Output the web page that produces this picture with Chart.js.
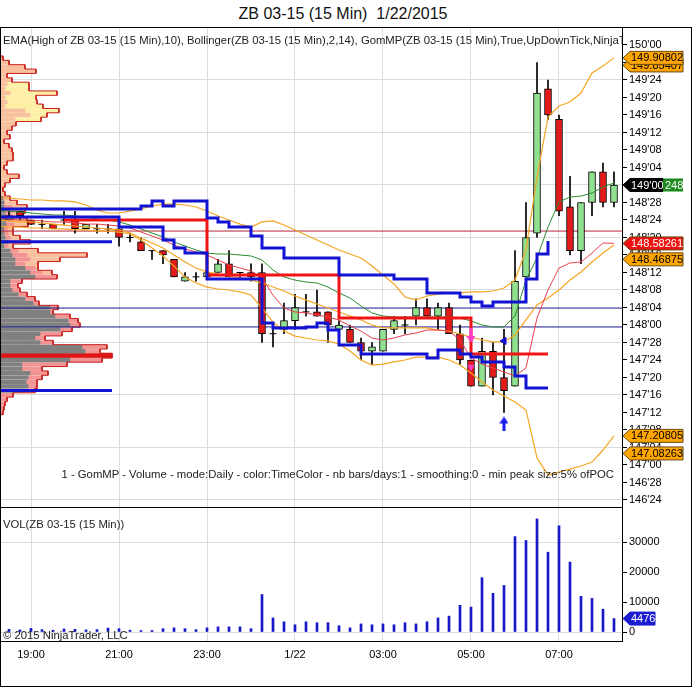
<!DOCTYPE html>
<html>
<head>
<meta charset="utf-8">
<title>ZB 03-15 (15 Min) 1/22/2015</title>
<script src="https://cdn.jsdelivr.net/npm/chart.js@4.4.1/dist/chart.umd.min.js"></script>
<style>
  html, body { margin: 0; padding: 0; background: #fff; }
  body { width: 692px; height: 687px; position: relative; overflow: hidden; font-family: 'Liberation Sans', Arial, sans-serif; }
  #titulo { position: absolute; left: 0; top: 4px; width: 686px; text-align: center; font-size: 16px; line-height: 20px; color: #111; }
  .painel { position: absolute; left: 0; width: 692px; }
  .texto { position: absolute; font-size: 11.3px; line-height: 14px; color: #222; white-space: nowrap; }
  .linha { position: absolute; left: 0; width: 622px; height: 1px; background: #000; }
  #moldura { position: absolute; left: 0; top: 27px; width: 692px; height: 660px; box-sizing: border-box; border: 1px solid #000; pointer-events: none; }
</style>
</head>
<body>
<div id="titulo">ZB 03-15 (15 Min)&nbsp; 1/22/2015</div>
<div class="painel" style="top:27px;height:480px"><canvas id="graficoPreco" width="692" height="480"></canvas></div>
<div class="painel" style="top:507px;height:180px"><canvas id="graficoVolume" width="692" height="180"></canvas></div>
<div class="texto" style="left:3px;top:33px;width:619px;overflow:hidden">EMA(High of ZB 03-15 (15 Min),10), Bollinger(ZB 03-15 (15 Min),2,14), GomMP(ZB 03-15 (15 Min),True,UpDownTick,NinjaTrader,Daily,1,0,5)</div>
<div class="texto" style="right:78px;top:467px">1 - GomMP - Volume - mode:Daily - color:TimeColor - nb bars/days:1 - smoothing:0 - min peak size:5% ofPOC</div>
<div class="texto" style="left:3px;top:517px">VOL(ZB 03-15 (15 Min))</div>
<div class="texto" style="left:3px;top:628px">© 2015 NinjaTrader, LLC</div>
<div class="linha" style="top:507px"></div>
<div class="linha" style="top:641px"></div>
<div id="moldura"></div>
<script>
// Horários das barras de 15 minutos (a primeira fica fora da tela, à esquerda)
const horarios = ['18:15','18:30','18:45','19:00','19:15','19:30','19:45','20:00','20:15','20:30','20:45',
  '21:00','21:15','21:30','21:45','22:00','22:15','22:30','22:45','23:00','23:15','23:30','23:45',
  '00:00','00:15','00:30','00:45','01:00','01:15','01:30','01:45','02:00','02:15','02:30','02:45',
  '03:00','03:15','03:30','03:45','04:00','04:15','04:30','04:45','05:00','05:15','05:30','05:45',
  '06:00','06:15','06:30','06:45','07:00','07:15','07:30','07:45','08:00','08:15'];

// Marcas do eixo de tempo
const horariosEixo = ['19:00','21:00','23:00','01:00','03:00','05:00','07:00'];
const textosEixo = ['19:00','21:00','23:00','1/22','03:00','05:00','07:00'];

// Cotações no formato pontos'32 avos
const abertura = [null,
  "148'24","148'26","148'24","148'23","148'23","148'24","148'24","148'22","148'22","148'22",
  "148'22","148'20","148'19","148'17","148'17","148'15","148'10","148'11","148'11","148'12",
  "148'14","148'12","148'12","148'12","147'30","147'31","148'01","148'03","148'03","148'03",
  "147'31","147'31","147'28","147'26","147'26","147'31","148'00","148'02","148'04","148'02",
  "148'04","147'30","147'24","147'18","147'26","147'20","147'18","148'11","148'21","149'22",
  "149'15","148'27","148'17","148'28","149'03","148'28"];
const maxima = [null,
  "148'26","148'26","148'24","148'24","148'23","148'26","148'26","148'23","148'23","148'23",
  "148'23","148'21","148'20","148'17","148'17","148'15","148'12","148'12","148'12","148'15",
  "148'17","148'12","148'14","148'14","147'31","148'05","148'07","148'07","148'08","148'03",
  "148'01","148'00","147'29","147'28","147'31","148'02","148'02","148'06","148'06","148'05",
  "148'05","148'00","147'24","147'29","147'28","147'31","148'17","148'28","149'28","149'24",
  "149'16","149'02","148'28","149'03","149'05","149'03"];
const minima = [null,
  "148'24","148'24","148'23","148'22","148'22","148'23","148'21","148'22","148'21","148'21",
  "148'18","148'19","148'17","148'15","148'14","148'11","148'10","148'10","148'11","148'12",
  "148'11","148'11","148'10","147'28","147'27","147'30","147'31","148'02","148'02","147'28",
  "147'31","147'28","147'24","147'23","147'26","147'30","147'30","148'00","148'02","147'31",
  "147'30","147'23","147'18","147'18","147'16","147'12","147'18","148'11","148'20","149'15",
  "148'25","148'16","148'14","148'25","148'27","148'27"];
const fechamento = [null,
  "148'25","148'25","148'23","148'23","148'22","148'24","148'22","148'23","148'22","148'22",
  "148'20","148'20","148'17","148'17","148'16","148'11","148'11","148'11","148'12","148'14",
  "148'11","148'12","148'11","147'30","147'30","148'01","148'04","148'03","148'02","148'00",
  "148'00","147'28","147'26","147'27","147'31","148'01","148'00","148'04","148'02","148'04",
  "147'30","147'24","147'18","147'26","147'20","147'17","148'10","148'20","149'21","149'16",
  "148'26","148'17","148'28","149'03","148'28","149'00"];

// Volume de cada barra
const volumes = [null,
  900,700,1200,800,600,1000,900,700,800,1300,
  1100,600,500,500,1100,1400,1100,800,1400,1700,
  1700,1700,1100,12500,4700,3400,2400,3400,3100,3100,
  2100,1400,2700,2400,2700,2400,3100,2700,3400,4700,
  5300,8900,8300,18100,12900,15500,31800,30500,37700,26600,
  35400,23300,11900,11200,7600,4476];

// Indicadores
const emaMaxima = [148.821,148.814,148.807,148.800,148.793,148.786,148.786,148.779,148.771,148.757,
  148.750,148.736,148.714,148.686,148.657,148.629,148.593,148.564,148.536,148.514,
  148.507,148.507,148.500,148.493,148.464,148.393,148.343,148.321,148.307,148.300,
  148.271,148.229,148.193,148.136,148.086,148.064,148.057,148.057,148.057,148.057,
  148.057,148.057,148.050,148.029,148.000,147.986,147.986,148.064,148.321,148.479,
  148.700,148.879,148.914,148.921,148.943,148.986,149.014];
const bollSuperior = [148.907,148.907,148.900,148.893,148.893,148.886,148.886,148.879,148.857,148.821,
  148.800,148.800,148.814,148.829,148.850,148.864,148.864,148.857,148.843,148.814,
  148.779,148.750,148.721,148.700,148.736,148.743,148.714,148.679,148.643,148.607,
  148.571,148.536,148.507,148.479,148.421,148.357,148.293,148.200,148.179,148.207,
  148.221,148.229,148.229,148.236,148.236,148.243,148.264,148.321,148.536,149.057,
  149.486,149.564,149.593,149.657,149.800,149.850,149.908];
const bollMedia = [148.750,148.743,148.736,148.736,148.729,148.721,148.714,148.707,148.700,148.693,
  148.686,148.679,148.657,148.621,148.586,148.550,148.500,148.450,148.407,148.379,
  148.364,148.350,148.336,148.321,148.300,148.271,148.243,148.207,148.179,148.150,
  148.121,148.093,148.064,148.036,148.000,147.979,147.979,147.979,147.979,147.979,
  147.964,147.957,147.936,147.914,147.893,147.879,147.879,147.929,148.036,148.143,
  148.193,148.250,148.321,148.379,148.450,148.514,148.571];
const bollInferior = [148.707,148.700,148.700,148.693,148.693,148.686,148.686,148.679,148.679,148.671,
  148.671,148.664,148.650,148.607,148.550,148.493,148.421,148.343,148.300,148.271,
  148.257,148.250,148.236,148.214,148.121,148.021,147.957,147.921,147.907,147.893,
  147.886,147.864,147.814,147.750,147.714,147.721,147.736,147.750,147.771,147.771,
  147.771,147.750,147.714,147.657,147.593,147.536,147.493,147.450,147.393,147.050,
  146.929,146.950,146.971,146.993,147.021,147.107,147.208];
const linhaVermelha = [148.764,148.757,148.750,148.750,148.743,148.736,148.736,148.729,148.721,148.721,
  148.714,148.707,148.693,148.664,148.636,148.607,148.571,148.543,148.521,148.500,
  148.464,148.429,148.407,148.386,148.336,148.214,148.121,148.093,148.086,148.071,
  148.057,148.036,147.993,147.957,147.907,147.893,147.907,147.929,147.943,147.964,
  147.964,147.957,147.893,147.764,147.721,147.693,147.664,147.636,147.693,148.050,
  148.250,148.407,148.443,148.450,148.514,148.586,148.583];

// Área de valor e POC do GomMP, em degraus
const areaAlta = [148.829,148.829,148.829,148.829,148.829,148.829,148.829,148.829,148.829,148.829,
  148.829,148.829,148.829,148.850,148.886,148.850,148.886,148.886,148.886,148.764,
  148.736,148.700,148.700,148.636,148.550,148.550,148.479,148.479,148.479,148.479,
  148.479,148.357,148.357,148.357,148.357,148.357,148.329,148.329,148.329,148.229,
  148.229,148.229,148.200,148.164,148.136,148.164,148.164,148.164,148.329,148.507,
  148.600,null,null,null,null,null,null];
const areaBaixa = [148.771,148.771,148.771,148.771,148.771,148.771,148.771,148.771,148.771,148.771,
  148.771,148.700,148.700,148.700,148.700,148.607,148.550,148.514,148.514,148.329,
  148.329,148.329,148.329,148.329,148.014,147.979,147.979,147.979,147.986,148.014,
  147.964,147.857,147.857,147.793,147.793,147.793,147.793,147.793,147.793,147.764,
  147.821,147.821,147.793,147.771,147.736,147.736,147.700,147.636,147.550,147.550,
  147.550,null,null,null,null,null,null];
const pocDiario = [null,null,null,null,null,null,148.750,148.750,148.750,148.750,
  148.750,148.750,148.750,148.750,148.750,148.750,148.750,148.750,148.750,148.357,
  148.357,148.357,148.357,148.357,148.357,148.357,148.357,148.357,148.357,148.357,
  148.357,148.050,148.050,148.050,148.050,148.050,148.050,148.050,148.050,148.050,
  148.050,148.050,148.050,147.793,147.793,147.793,147.793,147.793,147.793,147.793,
  147.793,null,null,null,null,null,null];

// Linhas horizontais de largura total
const linhasAzuis = [148.121, 147.986];
const linhasBordo = [148.671];

// Perfil de volume do dia (à esquerda)
const perfilPrecos = ["149'29","149'28","149'27","149'26","149'25","149'24","149'23","149'22","149'21","149'20",
  "149'19","149'18","149'17","149'16","149'15","149'14","149'13","149'12","149'11","149'10",
  "149'09","149'08","149'07","149'06","149'05","149'04","149'03","149'02","149'01","149'00",
  "148'31","148'30","148'29","148'28","148'27","148'26","148'25","148'24","148'23","148'22",
  "148'21","148'20","148'19","148'18","148'17","148'16","148'15","148'14","148'13","148'12",
  "148'11","148'10","148'09","148'08","148'07","148'06","148'05","148'04","148'03","148'02",
  "148'01","148'00","147'31","147'30","147'29","147'28","147'27","147'26","147'25","147'24",
  "147'23","147'22","147'21","147'20","147'19","147'18","147'17","147'16","147'15","147'14",
  "147'13","147'12"];
const perfilCinza = [0,0,0,0,0,0,0,0,0,0,
  0,0,0,0,0,0,0,0,0,0,
  0,0,0,0,0,0,0,0,0,0,
  0,0,300,400,400,500,500,500,600,400,
  400,500,800,400,1000,1200,1500,1500,2500,3000,
  3500,1000,1000,1200,1800,2500,3300,5000,5000,5500,
  6800,7000,6000,4000,3500,4000,8200,8500,0,7000,
  2200,2200,3000,2800,2600,2800,2500,0,0,0,
  0,0];
const perfilRosa = [0,0,0,0,0,0,0,0,0,0,
  0,0,0,0,0,0,0,0,0,0,
  0,0,0,0,0,0,0,0,0,0,
  0,0,0,0,800,800,600,800,800,400,
  400,500,800,400,800,1500,1500,1000,1000,1200,
  2200,1200,800,800,900,1000,600,800,300,1500,
  1000,1000,1200,2200,1000,1300,2500,1500,0,3200,
  4500,2000,1800,1400,1100,900,1000,1300,700,500,
  400,300];
const perfilPessego = [300,900,2500,3600,700,1200,700,500,1000,500,
  700,500,2500,3000,1500,1600,1200,700,1000,400,
  900,1200,1300,1300,700,400,700,1900,1000,500,
  300,500,700,1300,1500,1200,1200,1400,1400,500,
  500,1000,1400,500,2000,6000,3000,1300,300,1000,
  0,0,0,0,0,0,0,0,0,0,
  0,0,0,0,0,0,0,0,0,0,
  0,0,0,0,0,0,0,0,0,0,
  0,0];
const perfilAmarelo = [0,0,0,0,0,0,2200,2400,4700,3100,
  3000,3800,3400,1700,2600,0,0,0,0,0,
  0,0,0,0,0,0,0,0,0,0,
  0,0,0,0,0,0,0,0,0,0,
  0,0,0,0,0,0,0,0,0,0,
  0,0,0,0,0,0,0,0,0,0,
  0,0,0,0,0,0,0,0,0,0,
  0,0,0,0,0,0,0,0,0,0,
  0,0];
const perfilPoc = { preco: "147'25", volume: 11200 };
const perfilAreaValor = ["148'19", "147'17"];

// Rótulos dos eixos
const precosEixo = ["150'00","149'28","149'24","149'20","149'16","149'12","149'08","149'04","149'00",
  "148'28","148'24","148'20","148'16","148'12","148'08","148'04","148'00",
  "147'28","147'24","147'20","147'16","147'12","147'08","147'04","147'00","146'28","146'24"];
const precosGrade = ["149'24","149'12","149'00","148'20","148'08","147'28","147'16","147'04","146'24"];
const volumesEixo = [0, 10000, 20000, 30000];
const volumesGrade = [0, 30000];

// Etiquetas de preço no eixo direito
const marcadoresPreco = [
  { valor: 149.85407, texto: '149.85407', fundo: '#ffa500', cor: '#000' },
  { valor: 149.90802, texto: '149.90802', fundo: '#ffa500', cor: '#000' },
  { valor: 148.46875, texto: '148.46875', fundo: '#ffa500', cor: '#000' },
  { valor: 148.58261, texto: '148.58261', fundo: '#ee1111', cor: '#fff' },
  { valor: 147.20805, texto: '147.20805', fundo: '#ffa500', cor: '#000' },
  { valor: 147.08263, texto: '147.08263', fundo: '#ffa500', cor: '#000' }
];
const ultimoPreco = { cotacao: "149'00", contador: '248' };
const ultimoVolume = 4476;

// Setas e sinais
const setasBaixo = [{ horario: '05:00', preco: 147.925 }];
const setasCima = [{ horario: '05:45', preco: 147.293 }];
const triangulosRosa = [{ horario: '05:00', preco: 147.700 }];
const triangulosAzuis = [{ horario: '05:45', preco: 147.886 }];

// Limites das escalas
const X_MIN = 0.1818, X_MAX = 56.7273;
const Y_MIN = 146.7, Y_MAX = 150.12857;

Chart.defaults.font.family = "'Liberation Sans', Arial, sans-serif";
Chart.defaults.font.size = 11;
Chart.defaults.color = '#000';

// Função para converter "148'24" em número
function cotacao(texto) {
  if (texto == null) return null;
  const partes = texto.split("'");
  return Number(partes[0]) + Number(partes[1]) / 32;
}

function indice(h) { return horarios.indexOf(h); }

function pontos(serie) {
  return serie.map((v, i) => ({ x: i, y: v }));
}

// Função para montar as velas
const velas = [];
horarios.forEach((h, i) => {
  if (abertura[i] == null) return;
  velas.push({ x: i, o: cotacao(abertura[i]), h: cotacao(maxima[i]), l: cotacao(minima[i]), c: cotacao(fechamento[i]) });
});

// Função para montar o contorno vermelho do perfil
function contornoPerfil() {
  const lista = [];
  const meio = 1 / 64;
  perfilPrecos.forEach((p, i) => {
    let total = perfilCinza[i] + perfilRosa[i] + perfilPessego[i] + perfilAmarelo[i];
    if (p === perfilPoc.preco) total += perfilPoc.volume;
    const preco = cotacao(p);
    lista.push({ x: total, y: preco + meio });
    lista.push({ x: total, y: preco - meio });
  });
  lista.unshift({ x: 0, y: lista[0].y });
  lista.push({ x: 0, y: lista[lista.length - 1].y });
  return lista;
}

function barraPerfil(serie, cor) {
  return {
    type: 'bar', indexAxis: 'y', xAxisID: 'xp', yAxisID: 'y', stack: 'perfil', grouped: false,
    data: perfilPrecos.map((p, i) => ({ x: serie[i], y: cotacao(p) })),
    backgroundColor: cor, barThickness: 3.6, order: 100
  };
}

function linha(serie, cor, largura, ordem, degrau) {
  return {
    type: 'line', data: pontos(serie), borderColor: cor, borderWidth: largura,
    pointRadius: 0, tension: 0, stepped: degrau ? 'before' : false, order: ordem
  };
}

function horizontal(preco, cor) {
  return {
    type: 'line', data: [{ x: X_MIN, y: preco }, { x: X_MAX, y: preco }],
    borderColor: cor, borderWidth: 1, pointRadius: 0, order: 95
  };
}

// Função para criar a imagem de uma seta
function criarSeta(cor, paraCima) {
  const c = document.createElement('canvas');
  c.width = 9; c.height = 15;
  const g = c.getContext('2d');
  g.fillStyle = cor;
  g.beginPath();
  if (paraCima) {
    g.moveTo(4.5, 0); g.lineTo(9, 7); g.lineTo(0, 7);
    g.closePath(); g.fill();
    g.fillRect(3, 7, 3, 8);
  } else {
    g.fillRect(3, 0, 3, 8);
    g.moveTo(0, 8); g.lineTo(9, 8); g.lineTo(4.5, 15);
    g.closePath(); g.fill();
  }
  return c;
}

function sinais(lista, estilo, extra) {
  return Object.assign({
    type: 'scatter', data: lista.map(s => ({ x: indice(s.horario), y: s.preco })),
    pointStyle: estilo, pointRadius: 5, order: 40
  }, extra || {});
}

// Função para desenhar uma etiqueta em forma de seta no eixo direito
function desenharEtiqueta(ctx, x, y, largura, fundo, borda, corTexto, texto) {
  const h = 6.5;
  ctx.beginPath();
  ctx.moveTo(x, y);
  ctx.lineTo(x + 7, y - h);
  ctx.lineTo(x + largura, y - h);
  ctx.lineTo(x + largura, y + h);
  ctx.lineTo(x + 7, y + h);
  ctx.closePath();
  ctx.fillStyle = fundo;
  ctx.fill();
  ctx.strokeStyle = borda;
  ctx.lineWidth = 1;
  ctx.stroke();
  ctx.fillStyle = corTexto;
  ctx.font = "11px 'Liberation Sans', Arial, sans-serif";
  ctx.textAlign = 'left';
  ctx.textBaseline = 'middle';
  ctx.fillText(texto, x + 8, y + 0.5);
}

const pluginEtiquetasPreco = {
  id: 'etiquetasPreco',
  afterDraw(chart) {
    const ctx = chart.ctx;
    const escala = chart.scales.y;
    const x = chart.chartArea.right + 1;
    ctx.save();
    marcadoresPreco.forEach(m => {
      desenharEtiqueta(ctx, x, escala.getPixelForValue(m.valor), 60, m.fundo, '#6a4a10', m.cor, m.texto);
    });
    const y = escala.getPixelForValue(cotacao(ultimoPreco.cotacao));
    desenharEtiqueta(ctx, x, y, 40, '#000', '#000', '#fff', ultimoPreco.cotacao);
    ctx.fillStyle = '#1c8a1c';
    ctx.fillRect(x + 40, y - 6.5, 20, 13);
    ctx.fillStyle = '#fff';
    ctx.fillText(ultimoPreco.contador, x + 42, y + 0.5);
    ctx.restore();
  }
};

const pluginEtiquetaVolume = {
  id: 'etiquetaVolume',
  afterDraw(chart) {
    const ctx = chart.ctx;
    const y = chart.scales.y.getPixelForValue(ultimoVolume);
    ctx.save();
    desenharEtiqueta(ctx, chart.chartArea.right + 1, y, 32, '#1c1cd0', '#1c1cd0', '#fff', String(ultimoVolume));
    ctx.restore();
  }
};

const verde = '#8fe08f', vermelho = '#e31a1a', azul = '#1212d2', laranja = '#f5a623';

const eixoTempo = (mostrar) => ({
  type: 'linear', min: X_MIN, max: X_MAX, offset: false,
  afterBuildTicks: s => { s.ticks = horariosEixo.map(h => ({ value: indice(h) })); },
  afterFit: s => { s.height = mostrar ? 46 : 0; s.paddingLeft = 0; s.paddingRight = 0; },
  ticks: { display: mostrar, autoSkip: false, maxRotation: 0, padding: 7, callback: (v, i) => textosEixo[i] },
  grid: { color: '#dcdcdc', drawTicks: false, offset: false },
  border: { display: false }
});

// Gráfico de preços
new Chart(document.getElementById('graficoPreco'), {
  type: 'bar',
  data: {
    datasets: [
      barraPerfil(perfilCinza, '#808080'),
      barraPerfil(perfilRosa, '#f39494'),
      barraPerfil(perfilPessego, '#f8c09c'),
      barraPerfil(perfilAmarelo, '#fdefa4'),
      {
        type: 'bar', indexAxis: 'y', xAxisID: 'xp', yAxisID: 'y', stack: 'perfil', grouped: false,
        data: [{ x: perfilPoc.volume, y: cotacao(perfilPoc.preco) }],
        backgroundColor: '#e01414', barThickness: 5, order: 100
      },
      {
        type: 'line', xAxisID: 'xp', yAxisID: 'y', data: contornoPerfil(),
        borderColor: '#c81e1e', borderWidth: 1, pointRadius: 0, tension: 0, order: 99
      },
      ...perfilAreaValor.map(p => ({
        type: 'line', xAxisID: 'xp', yAxisID: 'y',
        data: [{ x: 0, y: cotacao(p) }, { x: perfilPoc.volume, y: cotacao(p) }],
        borderColor: azul, borderWidth: 3, pointRadius: 0, order: 96
      })),
      ...linhasAzuis.map(p => horizontal(p, '#1a1a90')),
      ...linhasBordo.map(p => horizontal(p, '#b4283c')),
      {
        type: 'bar', data: velas.map(v => ({ x: v.x, y: [v.l, v.h] })),
        backgroundColor: '#000', barThickness: 1, grouped: false, order: 72
      },
      {
        type: 'bar', data: velas.filter(v => v.o !== v.c).map(v => ({ x: v.x, y: [v.o, v.c], alta: v.c > v.o })),
        backgroundColor: ctx => (ctx.raw && ctx.raw.alta) ? verde : vermelho,
        borderColor: '#000', borderWidth: 1, borderSkipped: false, barThickness: 7, grouped: false, order: 71
      },
      {
        type: 'scatter', data: velas.filter(v => v.o === v.c).map(v => ({ x: v.x, y: v.c })),
        pointStyle: 'line', pointRadius: 3.5, borderColor: '#000', borderWidth: 1, order: 70
      },
      linha(bollSuperior, laranja, 1.2, 65),
      linha(bollMedia, laranja, 1.2, 65),
      linha(bollInferior, laranja, 1.2, 65),
      linha(linhaVermelha, '#e8404a', 1, 64),
      linha(emaMaxima, '#2e8b2e', 1, 63),
      linha(pocDiario, '#f01414', 3, 60, true),
      linha(areaAlta, azul, 3, 50, true),
      linha(areaBaixa, azul, 3, 50, true),
      sinais(setasBaixo, criarSeta('#ff3cc8', false)),
      sinais(setasCima, criarSeta('#1a1af0', true)),
      sinais(triangulosRosa, 'triangle', { pointRadius: 3.5, rotation: 180, backgroundColor: '#ff3cc8', borderColor: '#ff3cc8' }),
      sinais(triangulosAzuis, 'triangle', { pointRadius: 4, rotation: 270, backgroundColor: azul, borderColor: azul })
    ]
  },
  options: {
    responsive: false,
    animation: false,
    layout: { padding: 0, autoPadding: false },
    plugins: { legend: { display: false }, tooltip: { enabled: false } },
    scales: {
      x: eixoTempo(false),
      xp: { type: 'linear', display: false, min: 0, max: 62200, offset: false },
      y: {
        type: 'linear', position: 'right', min: Y_MIN, max: Y_MAX, offset: false,
        afterBuildTicks: s => { s.ticks = precosEixo.map(p => ({ value: cotacao(p) })); },
        afterFit: s => { s.width = 70; s.paddingTop = 0; s.paddingBottom = 0; },
        ticks: { autoSkip: false, padding: 2, callback: (v, i) => precosEixo[i] },
        grid: {
          offset: false,
          color: ctx => precosGrade.includes(precosEixo[ctx.index]) ? '#dcdcdc' : 'rgba(0,0,0,0)',
          tickColor: '#000', tickLength: 5
        },
        border: { color: '#000' }
      }
    }
  },
  plugins: [pluginEtiquetasPreco]
});

// Gráfico de volume
new Chart(document.getElementById('graficoVolume'), {
  type: 'bar',
  data: {
    datasets: [{
      data: volumes.map((v, i) => (v == null ? null : { x: i, y: v })).filter(p => p),
      backgroundColor: '#1818c8', barThickness: 2, grouped: false
    }]
  },
  options: {
    responsive: false,
    animation: false,
    layout: { padding: 0, autoPadding: false },
    plugins: { legend: { display: false }, tooltip: { enabled: false } },
    scales: {
      x: eixoTempo(true),
      y: {
        type: 'linear', position: 'right', min: -3000, max: 41667,
        afterBuildTicks: s => { s.ticks = volumesEixo.map(v => ({ value: v })); },
        afterFit: s => { s.width = 70; s.paddingTop = 0; s.paddingBottom = 0; },
        ticks: { autoSkip: false, padding: 2, callback: (v, i) => String(volumesEixo[i]) },
        grid: {
          color: ctx => volumesGrade.includes(volumesEixo[ctx.index]) ? '#dcdcdc' : 'rgba(0,0,0,0)',
          tickColor: '#000', tickLength: 5
        },
        border: { color: '#000' }
      }
    }
  },
  plugins: [pluginEtiquetaVolume]
});
</script>
</body>
</html>
